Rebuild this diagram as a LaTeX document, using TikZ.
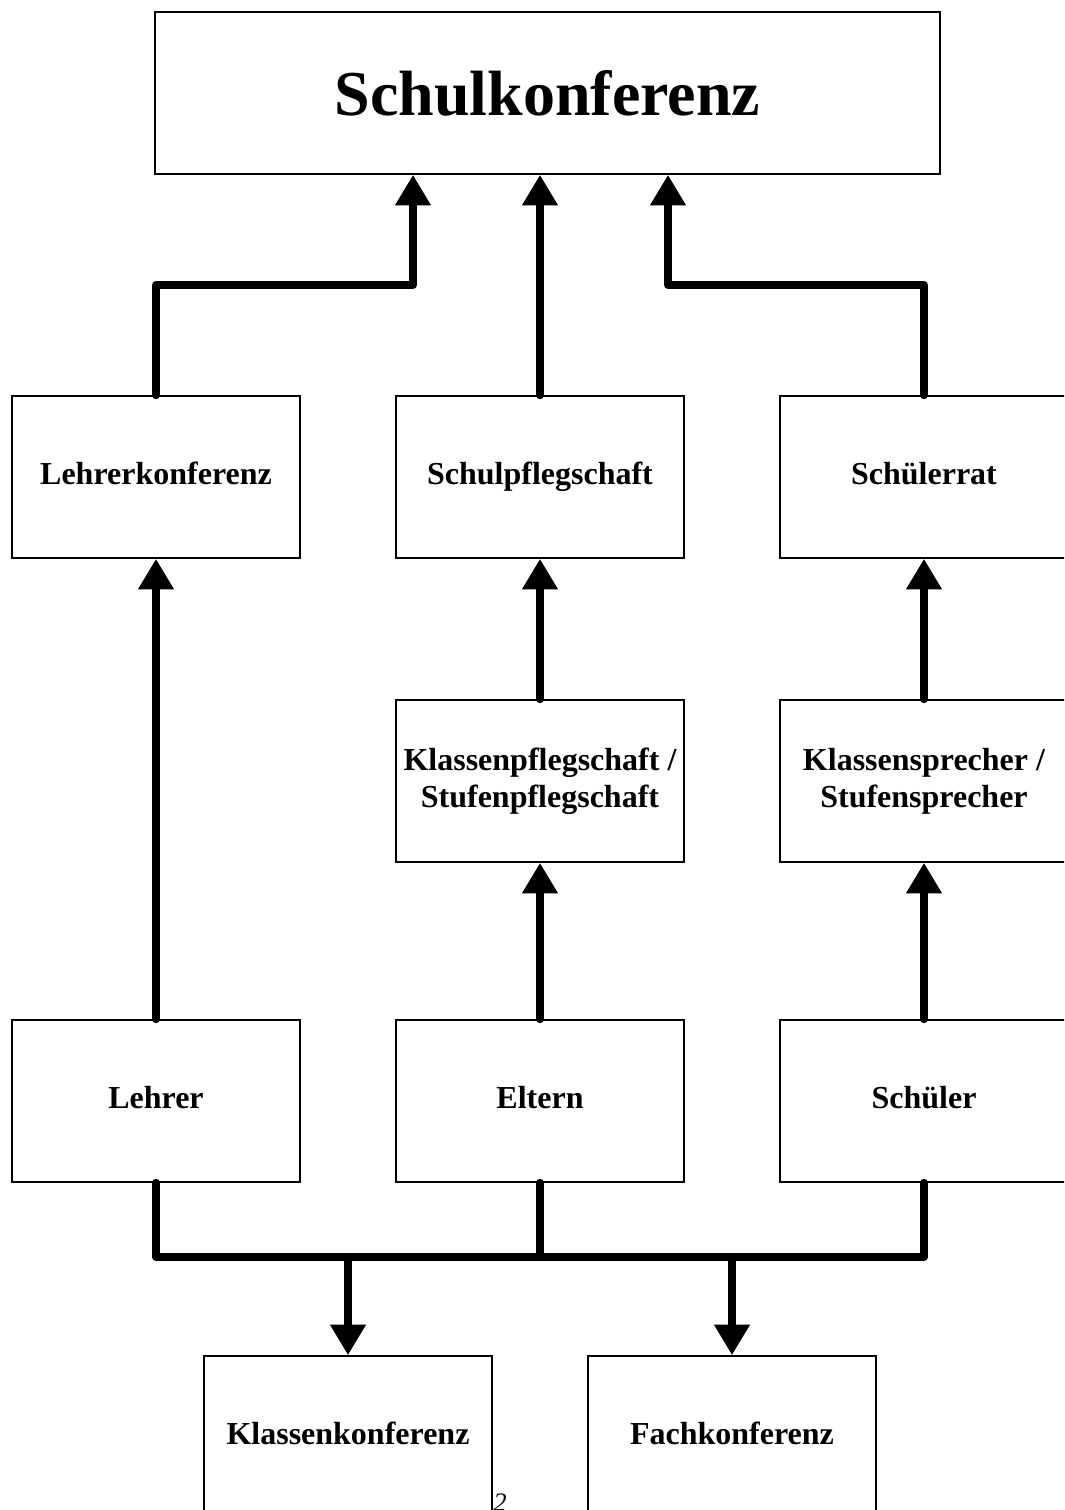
\documentclass[tikz,border=0pt]{standalone}
\usepackage{fontspec}
\setmainfont{Liberation Serif}
\usepackage{tikz}
\usetikzlibrary{arrows.meta}
\tikzset{
    org-box/.style = {draw=black, fill=white, line width=1.2pt, rectangle, minimum width=216pt, minimum height=121.5pt, align=center, font=\fontsize{24}{27.75}\selectfont\bfseries},
    org-box-title/.style = {org-box, minimum width=588.75pt, font=\fontsize{48}{56}\selectfont\bfseries},
    flow-line/.style = {line width=6pt, line cap=round, line join=round},
    flow-arrow/.style = {flow-line, -{Triangle[length=23pt, width=25.5pt]}},
}

\begin{document}
\begin{tikzpicture}[x=0.75pt, y=-0.75pt]
\useasboundingbox (0,0) rectangle (1064,1510);
\clip (0,0) rectangle (1064,1510);
% boxes
\node [org-box-title] (sk) at (547.5,93) {Schulkonferenz};
\node [org-box] (lk) at (156,477) {\strut Lehrerkonferenz};
\node [org-box] (sp) at (540,477) {\strut Schulpflegschaft};
\node [org-box] (sr) at (924,477) {\strut Schülerrat};
\node [org-box] (kp) at (540,781) {Klassenpflegschaft /\\Stufenpflegschaft};
\node [org-box] (ks) at (924,781) {Klassensprecher /\\Stufensprecher};
\node [org-box] (le) at (156,1101) {\strut Lehrer};
\node [org-box] (el) at (540,1101) {\strut Eltern};
\node [org-box] (sc) at (924,1101) {\strut Schüler};
\node [org-box] (kk) at (348,1437) {\strut Klassenkonferenz};
\node [org-box] (fk) at (732,1437) {\strut Fachkonferenz};
\node [anchor=north west, inner sep=0pt, font=\fontsize{20}{20}\selectfont\itshape] (pg) at (493,1494) {2};
% upward connectors
\coordinate (j1) at (413,285);
\coordinate (j2) at (668,285);
\draw [flow-arrow] (lk.north) |- (j1) -- (j1 |- sk.south);
\draw [flow-arrow] (sp.north) -- (sp.north |- sk.south);
\draw [flow-arrow] (sr.north) |- (j2) -- (j2 |- sk.south);
\draw [flow-arrow] (le.north) -- (lk.south);
\draw [flow-arrow] (el.north) -- (kp.south);
\draw [flow-arrow] (kp.north) -- (sp.south);
\draw [flow-arrow] (sc.north) -- (ks.south);
\draw [flow-arrow] (ks.north) -- (sr.south);
% bus to the lower boxes
\coordinate (bus) at (540,1257);
\draw [flow-line] (le.south) |- (bus) -| (sc.south);
\draw [flow-line] (el.south) -- (bus);
\draw [flow-arrow] (kk.north |- bus) -- (kk.north);
\draw [flow-arrow] (fk.north |- bus) -- (fk.north);
\end{tikzpicture}
\end{document}
